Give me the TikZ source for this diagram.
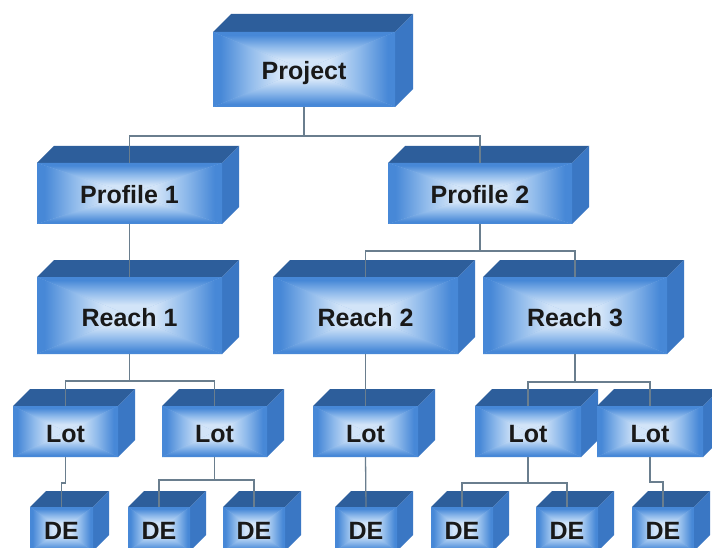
\documentclass[tikz,border=0pt]{standalone}
\usepackage{fontspec}
\setmainfont{Liberation Sans}
\definecolor{cC}{HTML}{D2E4F8}
\definecolor{cM}{HTML}{8FBAEB}
\definecolor{cE}{HTML}{4788D7}
\definecolor{topc}{HTML}{2D5E9B}
\definecolor{sidec}{HTML}{3A77C4}
\definecolor{linec}{HTML}{6A7E8E}
\pgfdeclareverticalshading{facesh}{100bp}{color(0bp)=(cC); color(25bp)=(cC); color(39bp)=(cC); color(55bp)=(cM); color(71bp)=(cE); color(75bp)=(cE); color(100bp)=(cE)}
\tikzset{
  conn/.style={draw=linec, line width=1.3pt},
  lbl/.style={font=\bfseries\fontsize{25}{27}\selectfont, text=black!90, inner sep=0pt, anchor=base},
  boxnode/.style={inner sep=0pt, outer sep=0pt},
}
% #1 name, #2 x1, #3 y1, #4 x2, #5 y2, #6 depth, #7 text
\newcommand\mycube[7]{%
  \fill[topc] (#2,#3) -- (#2+#6,#3-#6) -- (#4+#6,#3-#6) -- (#4,#3) -- cycle;
  \fill[sidec] (#4,#3) -- (#4+#6,#3-#6) -- (#4+#6,#5-#6) -- (#4,#5) -- cycle;
  \fill[cM] (#2,#3) rectangle (#4,#5);
  \shade[shading=facesh, shading angle=0] (#2,#3) -- (#4,#3) -- ({(#2+#4)/2},{(#3+#5)/2}) -- cycle;
  \shade[shading=facesh, shading angle=180] (#2,#5) -- (#4,#5) -- ({(#2+#4)/2},{(#3+#5)/2}) -- cycle;
  \shade[shading=facesh, shading angle=90] (#2,#3) -- (#2,#5) -- ({(#2+#4)/2},{(#3+#5)/2}) -- cycle;
  \shade[shading=facesh, shading angle=270] (#4,#3) -- (#4,#5) -- ({(#2+#4)/2},{(#3+#5)/2}) -- cycle;
  \node[boxnode, minimum width={(#4-#2)*1pt}, minimum height={(#5-#3)*1pt}] (#1) at ({(#2+#4)/2},{(#3+#5)/2}) {};
  \node[lbl] (#1-t) at ({(#2+#4)/2},{(#3+#5)/2+10.5}) {#7};
}
\begin{document}
\begin{tikzpicture}[x=1pt, y=-1pt]
\useasboundingbox (0,0) rectangle (712,548);
\clip (0,0) rectangle (712,548);
\fill[white] (0,0) rectangle (712,548);
% boxes
\mycube{proj}{213}{32}{395}{107}{18}{Project}
\mycube{prof1}{37}{163}{222}{224}{17}{Profile 1}
\mycube{prof2}{388}{163}{572}{224}{17}{Profile 2}
\mycube{reach1}{37}{277}{222}{354}{17}{Reach 1}
\mycube{reach2}{273}{277}{458}{354}{17}{Reach 2}
\mycube{reach3}{483}{277}{667}{354}{17}{Reach 3}
\mycube{lot1}{13}{406}{118}{457}{17}{Lot}
\mycube{lot2}{162}{406}{267}{457}{17}{Lot}
\mycube{lot3}{313}{406}{418}{457}{17}{Lot}
\mycube{lot4}{475}{406}{581}{457}{17}{Lot}
\mycube{lot5}{597}{406}{703}{457}{17}{Lot}
\mycube{de1}{30}{507}{93}{551}{16}{DE}
\mycube{de2}{128}{507}{190}{551}{16}{DE}
\mycube{de3}{223}{507}{285}{551}{16}{DE}
\mycube{de4}{335}{507}{397}{551}{16}{DE}
\mycube{de5}{431}{507}{493}{551}{16}{DE}
\mycube{de6}{536}{507}{598}{551}{16}{DE}
\mycube{de7}{632}{507}{694}{551}{16}{DE}
% connectors
\draw[conn] (proj.south) -- ++(0,29) -| (prof1.north);
\draw[conn] (proj.south) -- ++(0,29) -| (prof2.north);
\draw[conn] (prof1.south) -- (reach1.north);
\draw[conn] (prof2.south) -- ++(0,27) -| (reach2.north);
\draw[conn] (prof2.south) -- ++(0,27) -| (reach3.north);
\draw[conn] (reach1.south) -- ++(0,27) -| (lot1.north);
\draw[conn] (reach1.south) -- ++(0,27) -| (lot2.north);
\draw[conn] (reach2.south) -- (lot3.north);
\draw[conn] (reach3.south) -- ++(0,28) -| (lot4.north);
\draw[conn] (reach3.south) -- ++(0,28) -| (lot5.north);
\draw[conn] (lot1.south) -- ++(0,26) -| (de1.north);
\draw[conn] (lot2.south) -- ++(0,23) -| (de2.north);
\draw[conn] (lot2.south) -- ++(0,23) -| (de3.north);
\draw[conn] (lot3.south) -- (de4.north);
\draw[conn] (lot4.south) -- ++(0,26) -| (de5.north);
\draw[conn] (lot4.south) -- ++(0,26) -| (de6.north);
\draw[conn] (lot5.south) -- ++(0,25) -| (de7.north);
\end{tikzpicture}
\end{document}
